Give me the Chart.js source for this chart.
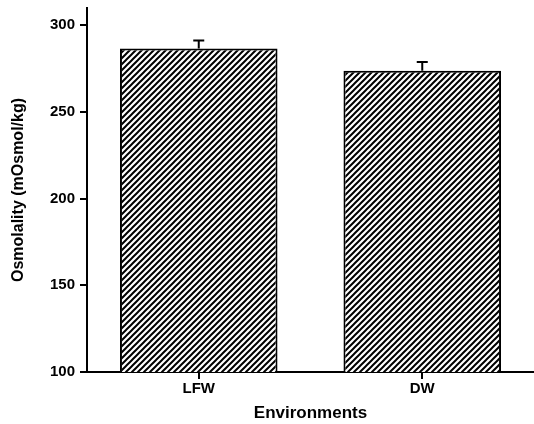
<!DOCTYPE html>
<html>
<head>
<meta charset="utf-8">
<script src="https://cdn.jsdelivr.net/npm/chart.js@4.4.1/dist/chart.umd.min.js"></script>
<style>
  html, body { margin: 0; padding: 0; background: #fff; }
  #wrap { width: 534px; height: 424px; }
</style>
</head>
<body>
<div id="wrap"><canvas id="myChart" width="534" height="424"></canvas></div>
<script>
// Daten
const categories = ["LFW", "DW"]
const osmolality = [286.6, 273.8]
const errors = [4.7, 5.0]
const yTicks = [100, 150, 200, 250, 300]

const FONT = "'Liberation Sans', Arial, sans-serif"

// Schraffur-Muster fuer die Balken
function makeHatch() {
    const c = document.createElement("canvas")
    c.width = 6
    c.height = 6
    const ctx = c.getContext("2d")
    ctx.fillStyle = "#fff"
    ctx.fillRect(0, 0, 6, 6)
    ctx.strokeStyle = "#000"
    ctx.lineWidth = 2
    ctx.beginPath()
    ctx.moveTo(-3, 9); ctx.lineTo(9, -3)
    ctx.moveTo(-6, 6); ctx.lineTo(6, -6)
    ctx.moveTo(0, 12); ctx.lineTo(12, 0)
    ctx.stroke()
    return ctx.createPattern(c, "repeat")
}

// Fehlerbalken (nur nach oben)
const errorBars = {
    id: "errorBars",
    afterDatasetsDraw(chart) {
        const ctx = chart.ctx
        const y = chart.scales.y
        const meta = chart.getDatasetMeta(0)
        ctx.save()
        ctx.strokeStyle = "#000"
        ctx.lineWidth = 2
        meta.data.forEach((bar, i) => {
            const top = y.getPixelForValue(osmolality[i] + errors[i])
            ctx.beginPath()
            ctx.moveTo(bar.x, bar.y)
            ctx.lineTo(bar.x, top)
            ctx.moveTo(bar.x - 5.5, top)
            ctx.lineTo(bar.x + 5.5, top)
            ctx.stroke()
        })
        ctx.restore()
    }
}

const chart = new Chart(document.getElementById("myChart"), {
    type: "bar",
    data: {
        labels: categories,
        datasets: [{
            data: osmolality,
            backgroundColor: makeHatch(),
            borderColor: "#000",
            borderWidth: 2,
            barPercentage: 0.705,
            categoryPercentage: 1
        }]
    },
    plugins: [errorBars],
    options: {
        responsive: false,
        animation: false,
        layout: { padding: { top: 0, right: 0, bottom: 0, left: 0 } },
        plugins: { legend: { display: false }, tooltip: { enabled: false } },
        scales: {
            x: {
                grid: { display: true, drawOnChartArea: false, offset: false, tickLength: 7, color: "#000", lineWidth: 2 },
                border: { color: "#000", width: 2 },
                ticks: { color: "#000", padding: 1, font: { family: FONT, size: 15, weight: "bold" } },
                title: { display: true, text: "Environments", color: "#000", padding: { top: 0, bottom: 0 }, font: { family: FONT, size: 17, weight: "bold" } },
                afterFit: (scale) => { scale.height = 52 }
            },
            y: {
                min: 100,
                max: 310,
                afterBuildTicks: (scale) => { scale.ticks = yTicks.map(v => ({ value: v })) },
                grid: { display: true, drawOnChartArea: false, tickLength: 7, color: "#000", lineWidth: 2 },
                border: { color: "#000", width: 2 },
                ticks: { color: "#000", padding: 5, font: { family: FONT, size: 15, weight: "bold" } },
                title: { display: true, text: "Osmolality (mOsmol/kg)", color: "#000", padding: { top: 9, bottom: 0 }, font: { family: FONT, size: 16, weight: "bold" } },
                afterFit: (scale) => {
                    scale.width = 87
                    scale.paddingTop = 8
                    scale.paddingBottom = 0
                }
            }
        }
    }
})
</script>
</body>
</html>
